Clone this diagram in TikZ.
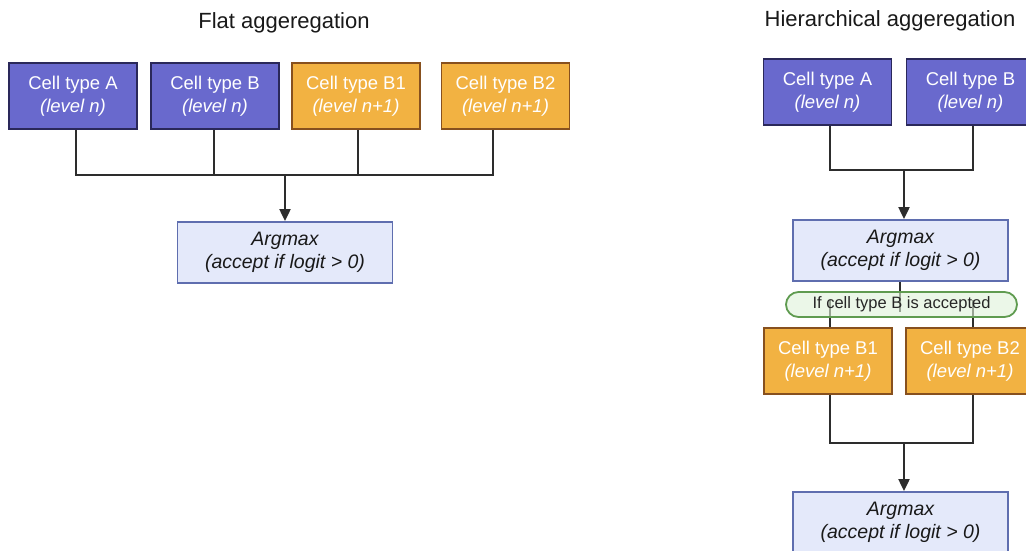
\documentclass[tikz,border=0pt]{standalone}
\usepackage{fontspec}
\setmainfont{Liberation Sans}
\usepackage{tikz}
\usepackage{xcolor}
\usetikzlibrary{arrows.meta,calc,positioning,backgrounds}
\definecolor{LvlN}{RGB}{105,105,205}
\definecolor{LvlNEdge}{RGB}{42,40,90}
\definecolor{LvlK}{RGB}{242,178,66}
\definecolor{LvlKEdge}{RGB}{135,80,30}
\definecolor{ArgFill}{RGB}{228,233,250}
\definecolor{ArgEdge}{RGB}{95,110,175}
\definecolor{CondFill}{RGB}{222,242,216}
\definecolor{CondEdge}{RGB}{95,155,80}
\definecolor{WireCol}{RGB}{45,45,45}
\tikzset{
  agbase/.style={draw, line width=1.8pt, minimum height=66pt, inner sep=0pt, align=center, font=\fontsize{18.5}{23}\selectfont},
  agcellN/.style={agbase, fill=LvlN, draw=LvlNEdge, text=white, minimum width=128pt},
  agcellK/.style={agbase, fill=LvlK, draw=LvlKEdge, text=white, minimum width=128pt},
  agargmax/.style={agbase, fill=ArgFill, draw=ArgEdge, text=black!90, minimum width=215pt, minimum height=61pt, font=\fontsize{19.5}{23}\selectfont\itshape},
  agcond/.style={draw=CondEdge, fill=CondFill, fill opacity=0.6, text opacity=1, rounded corners=12.5pt, line width=1.8pt, minimum width=231pt, minimum height=25pt, inner sep=0pt, text=black!85, font=\fontsize{16.5}{18}\selectfont},
  agwire/.style={line width=2pt, draw=WireCol},
  agarrow/.style={agwire, -{Triangle[length=12pt,width=11pt]}},
  agtitle/.style={font=\fontsize{22}{24}\selectfont, text=black!90}
}

\begin{document}
\begin{tikzpicture}[x=1pt,y=-1pt]
  \useasboundingbox (0,0) rectangle (1026,550);
  \clip (0,0) rectangle (1026,550);
  \node[agtitle] (flatT) at (284,23) {Flat aggeregation};
  \node[agtitle] (hierT) at (890,21) {Hierarchical aggeregation};
  % flat
  \node[agcellN] (fA) at (73,96) {Cell type A\\\textit{(level n)}};
  \node[agcellN] (fB) at (215,96) {Cell type B\\\textit{(level n)}};
  \node[agcellK] (fB1) at (356,96) {Cell type B1\\\textit{(level n+1)}};
  \node[agcellK] (fB2) at (505.5,96) {Cell type B2\\\textit{(level n+1)}};
  \node[agargmax] (fArg) at (285,252.5) {Argmax\\(accept if logit > 0)};
  \coordinate (fBus) at (285,175);
  \draw[agwire] ([xshift=3pt]fA.south) |- (fBus) -| ([xshift=-12.5pt]fB2.south);
  \draw[agwire] ([xshift=-1pt]fB.south) |- (fBus);
  \draw[agwire] ([xshift=2pt]fB1.south) |- (fBus);
  \draw[agarrow] (fBus) -- (fBus |- fArg.north);
  % hierarchical
  \node[agcellN] (hA) at (827.5,92) {Cell type A\\\textit{(level n)}};
  \node[agcellN] (hB) at (970.5,92) {Cell type B\\\textit{(level n)}};
  \node[agargmax] (hArg1) at (900.5,250.5) {Argmax\\(accept if logit > 0)};
  \node[agcond] (hCond) at (901.5,304.5) {If cell type B is accepted};
  \node[agcellK] (hB1) at (828,361) {Cell type B1\\\textit{(level n+1)}};
  \node[agcellK] (hB2) at (970,361) {Cell type B2\\\textit{(level n+1)}};
  \node[agargmax] (hArg2) at (900.5,522.5) {Argmax\\(accept if logit > 0)};
  \coordinate (hBus1) at (904,170);
  \coordinate (hBus2) at (904,443);
  \draw[agwire] ([xshift=2.5pt]hA.south) |- (hBus1) -| ([xshift=2.5pt]hB.south);
  \draw[agarrow] (hBus1) -- (hBus1 |- hArg1.north);
  \begin{scope}[on background layer]
    \draw[agwire] ([xshift=-0.5pt]hArg1.south) -- ++(0,30);
    \draw[agwire] ([xshift=2pt]hB1.north) -- ++(0,-27);
    \draw[agwire] ([xshift=3pt]hB2.north) -- ++(0,-27);
  \end{scope}
  \draw[agwire] ([xshift=2pt]hB1.south) |- (hBus2) -| ([xshift=3pt]hB2.south);
  \draw[agarrow] (hBus2) -- (hBus2 |- hArg2.north);
\end{tikzpicture}
\end{document}
